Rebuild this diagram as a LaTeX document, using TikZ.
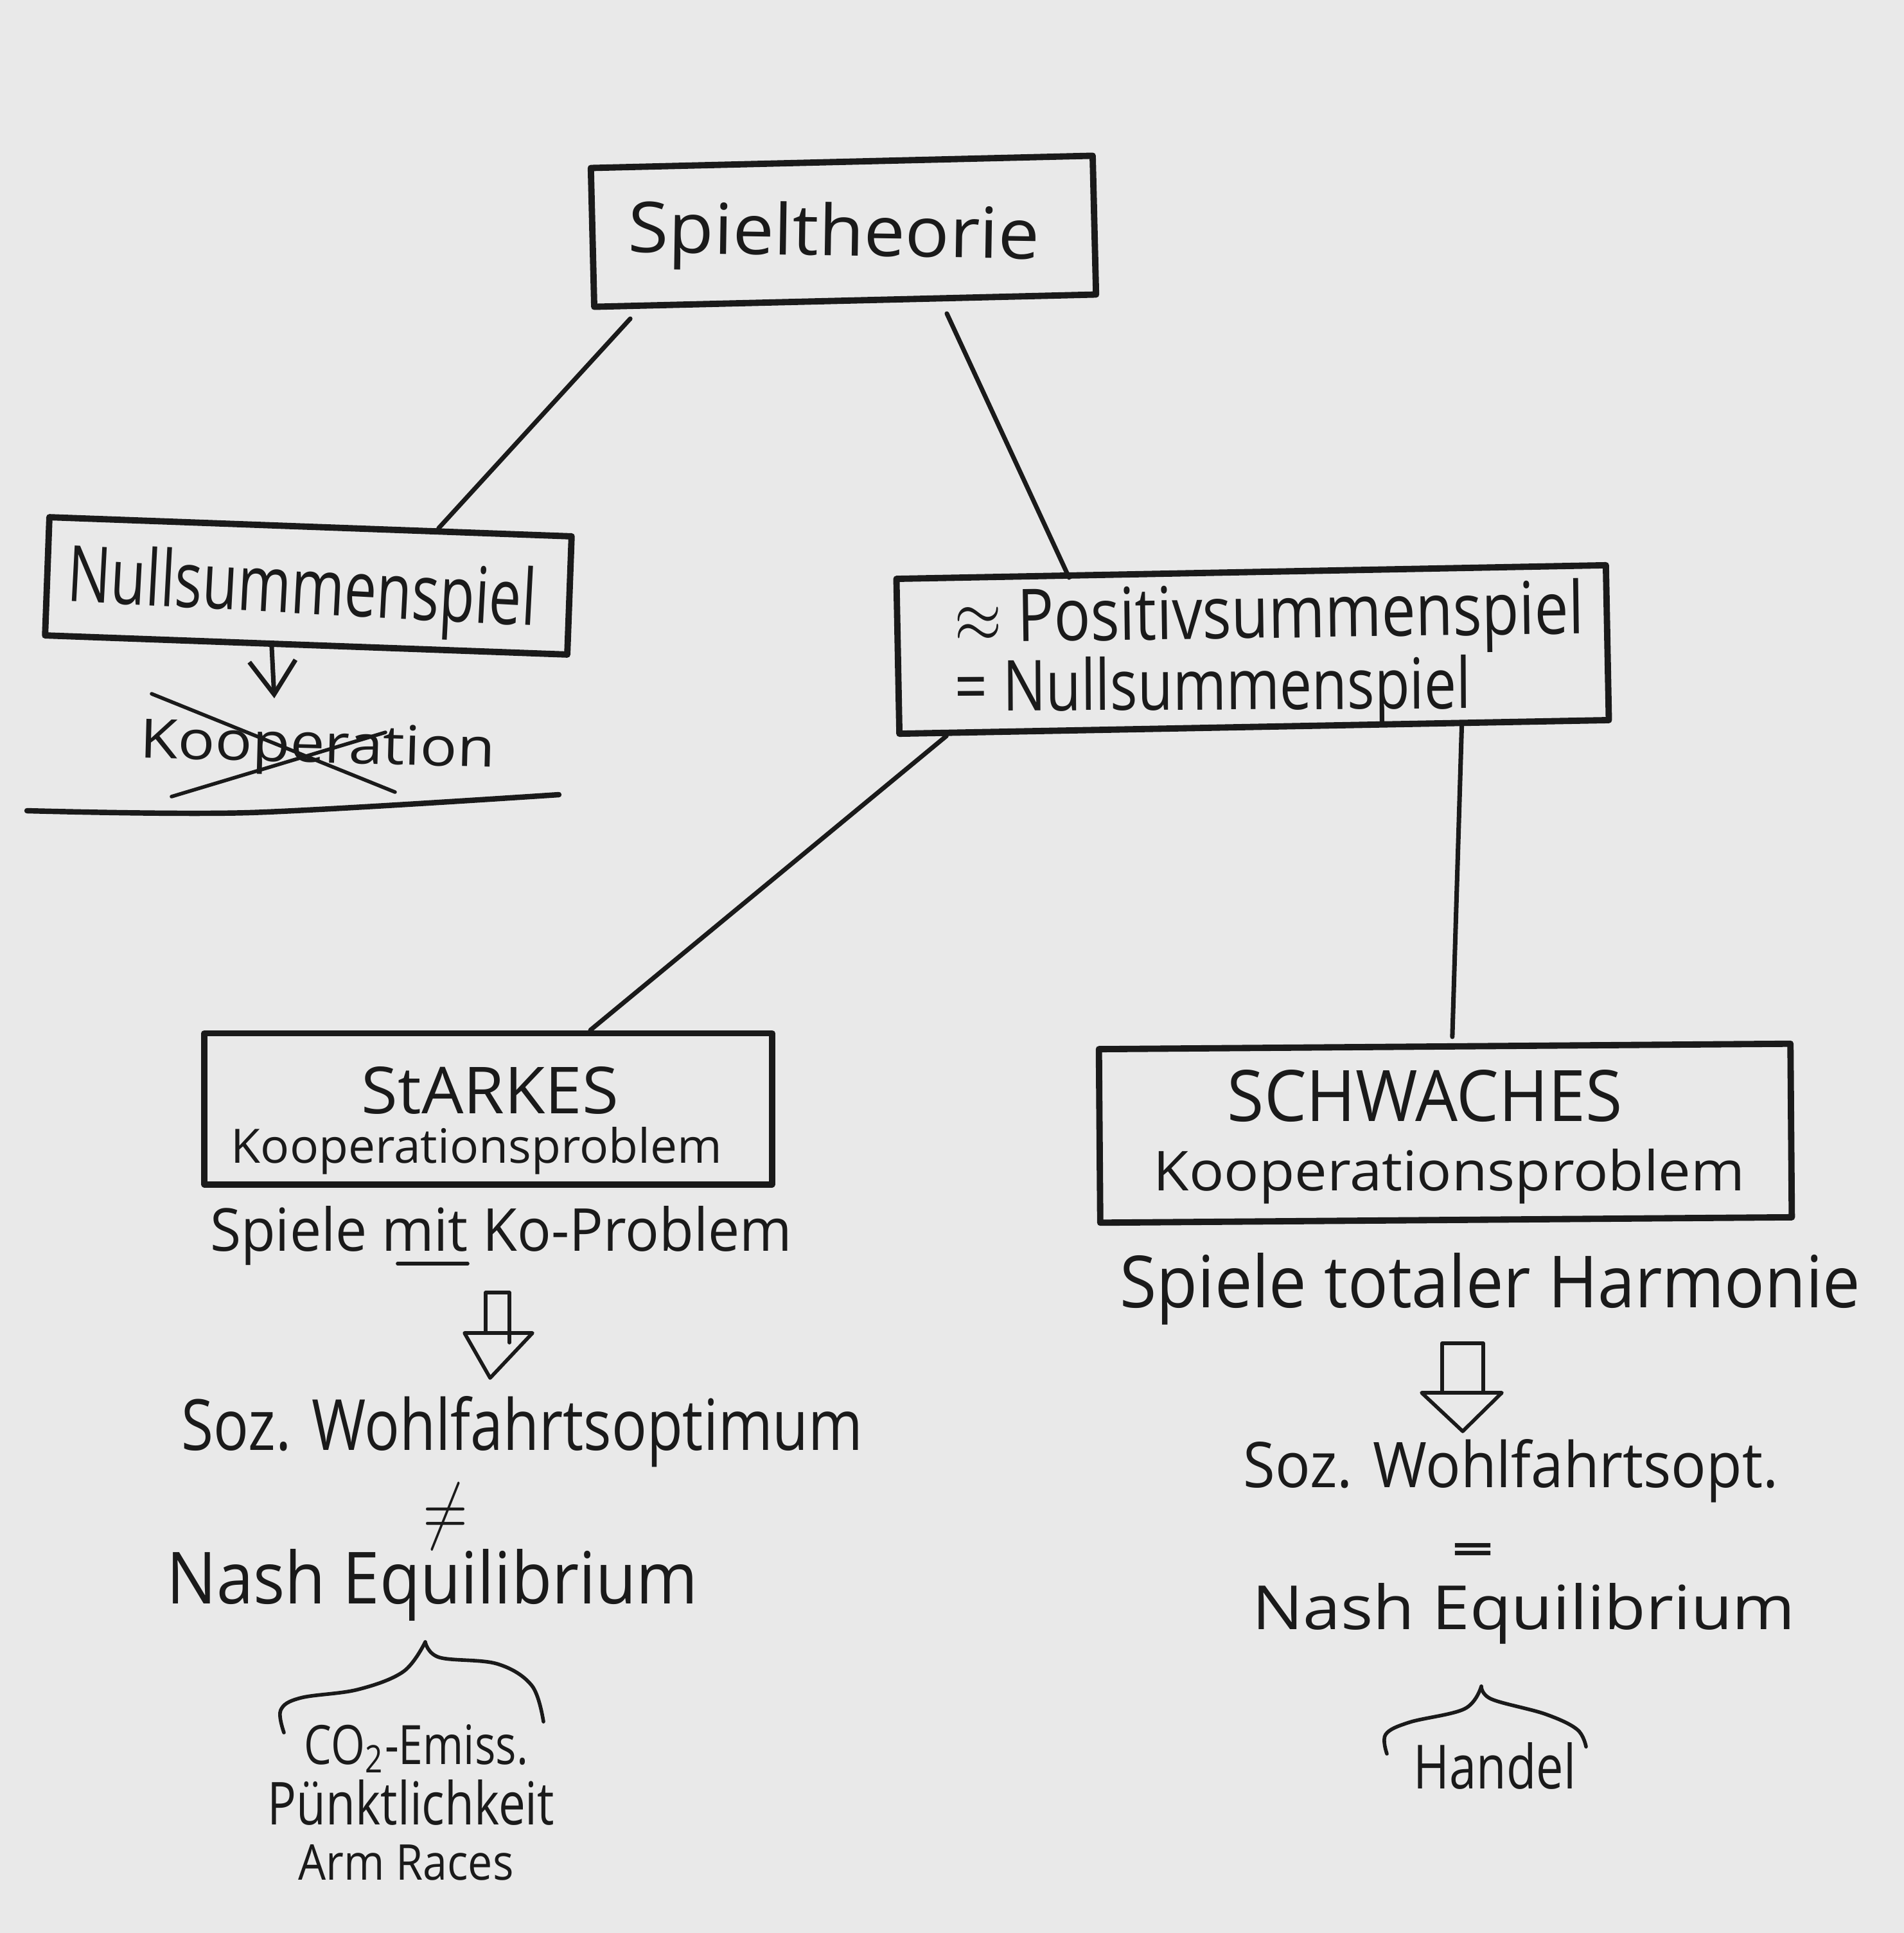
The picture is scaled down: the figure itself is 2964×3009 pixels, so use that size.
\documentclass[tikz,border=0pt]{standalone}
\usepackage{fontspec}
\setmainfont{Open Sans}
\usetikzlibrary{calc,arrows.meta}
\definecolor{paper}{RGB}{233,233,233}
\definecolor{ink}{RGB}{26,26,26}
\newcommand{\tw}[3]{\resizebox{#1cm}{#2cm}{#3}}
\begin{document}
\begin{tikzpicture}[x=0.01cm,y=-0.01cm,
  box/.style={draw=ink,line width=2.8pt,inner sep=0pt,line join=round},
  lbl/.style={text=ink,inner sep=0pt,anchor=base},
  conn/.style={draw=ink,line width=2pt,line cap=round,line join=round},
  thin/.style={draw=ink,line width=1.6pt,line cap=round,line join=round}]
\fill[paper] (0,0) rectangle (2964,3009);
\useasboundingbox (0,0) rectangle (2964,3009);

% boxes
\node[box,minimum width=7.81cm,minimum height=2.16cm,rotate=1.4] (spiel) at (1313,360) {};
\node[box,minimum width=8.13cm,minimum height=1.84cm,rotate=-2.1] (null) at (480,912) {};
\node[box,minimum width=11.04cm,minimum height=2.41cm,rotate=1.1] (pos) at (1950,1011) {};
\node[box,minimum width=8.83cm,minimum height=2.35cm] (stark) at (760,1726) {};
\node[box,minimum width=10.76cm,minimum height=2.70cm,rotate=0.45] (schw) at (2250,1764) {};

% texts
\node[lbl,rotate=-0.9] (spieltxt) at (1298,398) {\tw{6.40}{0.83}{Spieltheorie}};
\node[lbl,rotate=-3] (nulltxt) at (468,955) {\tw{7.30}{0.92}{Nullsummenspiel}};
\node[lbl,rotate=-1.5] (koop) at (494,1187) {\tw{5.52}{0.62}{Kooperation}};
\node[lbl,anchor=base west,rotate=0.8] (posa) at (1486,1000) {\tw{9.79}{0.86}{$\approx$ Positivsummenspiel}};
\node[lbl,anchor=base west,rotate=0.3] (posb) at (1486,1107) {\tw{8.03}{0.83}{= Nullsummenspiel}};
\node[lbl] (starktxt) at (763,1733) {\tw{4.00}{0.73}{StARKES}};
\node[lbl] (kp1) at (742,1810) {\tw{7.64}{0.56}{Kooperationsproblem}};
\node[lbl] (spl) at (780,1947) {\tw{9.05}{0.70}{Spiele mit Ko-Problem}};
\node[lbl] (soz1) at (813,2257) {\tw{10.60}{0.84}{Soz. Wohlfahrtsoptimum}};
\node[lbl,anchor=center] (neq) at (694,2361) {\tw{0.70}{0.80}{$\neq$}};
\node[lbl] (nash1) at (673,2496) {\tw{8.27}{0.85}{Nash Equilibrium}};
\node[lbl] (co2) at (648,2746) {\tw{3.48}{0.62}{CO\textsubscript{2}-Emiss.}};
\node[lbl] (puenkt) at (640,2840) {\tw{4.46}{0.70}{Pünktlichkeit}};
\node[lbl] (arm) at (632,2926) {\tw{3.35}{0.55}{Arm Races}};
\node[lbl] (schwtxt) at (2218,1745) {\tw{6.14}{0.80}{SCHWACHES}};
\node[lbl] (kp2) at (2256,1853) {\tw{9.20}{0.65}{Kooperationsproblem}};
\node[lbl] (harm) at (2320,2035) {\tw{11.52}{0.85}{Spiele totaler Harmonie}};
\node[lbl] (soz2) at (2352,2315) {\tw{8.32}{0.75}{Soz. Wohlfahrtsopt.}};
\node[lbl,anchor=center] (eq) at (2293,2418) {\tw{0.65}{0.32}{\textbf{=}}};
\node[lbl] (nash2) at (2372,2536) {\tw{8.45}{0.72}{Nash Equilibrium}};
\node[lbl] (handel) at (2327,2784) {\tw{2.52}{0.72}{Handel}};

% connectors
\draw[conn] ($(spiel.south west)!0.077!(spiel.south east)+(0,15)$) -- ($(null.north west)!0.742!(null.north east)$);
\draw[conn] ($(spiel.south west)!0.70!(spiel.south east)+(0,19)$) -- ($(pos.north west)!0.243!(pos.north east)+(3,8)$);
\draw[conn] ($(pos.south west)!0.07!(pos.south east)$) -- ($(stark.north west)!0.678!(stark.north east)$);
\draw[conn] ($(pos.south west)!0.79!(pos.south east)$) -- ($(schw.north west)!0.511!(schw.north east)+(0,-10)$);

% small arrow to Kooperation
\coordinate (a1) at (427,1087);
\draw[conn,-{Straight Barb[length=0.52cm,width=0.72cm]}] ($(null.south west)!0.435!(null.south east)$) -- (a1);

% crossing out and underline of Kooperation
\draw[thin] (236,1080) -- (615,1233);
\draw[thin] (267,1240) -- (600,1140);
\draw[conn,line width=2.4pt] plot[smooth] coordinates {(42,1262) (388,1265) (870,1237)};

% underline "mit"
\draw[thin] (619,1967) -- (728,1967);

% block arrows
\draw[thin] (756,2075) -- (756,2012) -- (793,2012) -- (793,2090);
\draw[thin] (723,2075) -- (829,2075) -- (763,2145) -- cycle;
\draw[thin] (2245,2168) -- (2245,2091) -- (2309,2091) -- (2309,2168);
\draw[thin] (2213,2168) -- (2338,2168) -- (2277,2228) -- cycle;

% braces
\draw[thin] plot[smooth,tension=0.6] coordinates {(442,2697) (437,2662) (468,2643) (557,2630) (628,2602) (662,2556)};
\draw[thin] plot[smooth,tension=0.6] coordinates {(662,2556) (684,2580) (774,2590) (828,2624) (846,2680)};
\draw[thin] plot[smooth,tension=0.6] coordinates {(2159,2730) (2157,2700) (2194,2681) (2280,2660) (2306,2625)};
\draw[thin] plot[smooth,tension=0.6] coordinates {(2306,2625) (2322,2645) (2405,2668) (2455,2692) (2469,2719)};
\end{tikzpicture}
\end{document}
